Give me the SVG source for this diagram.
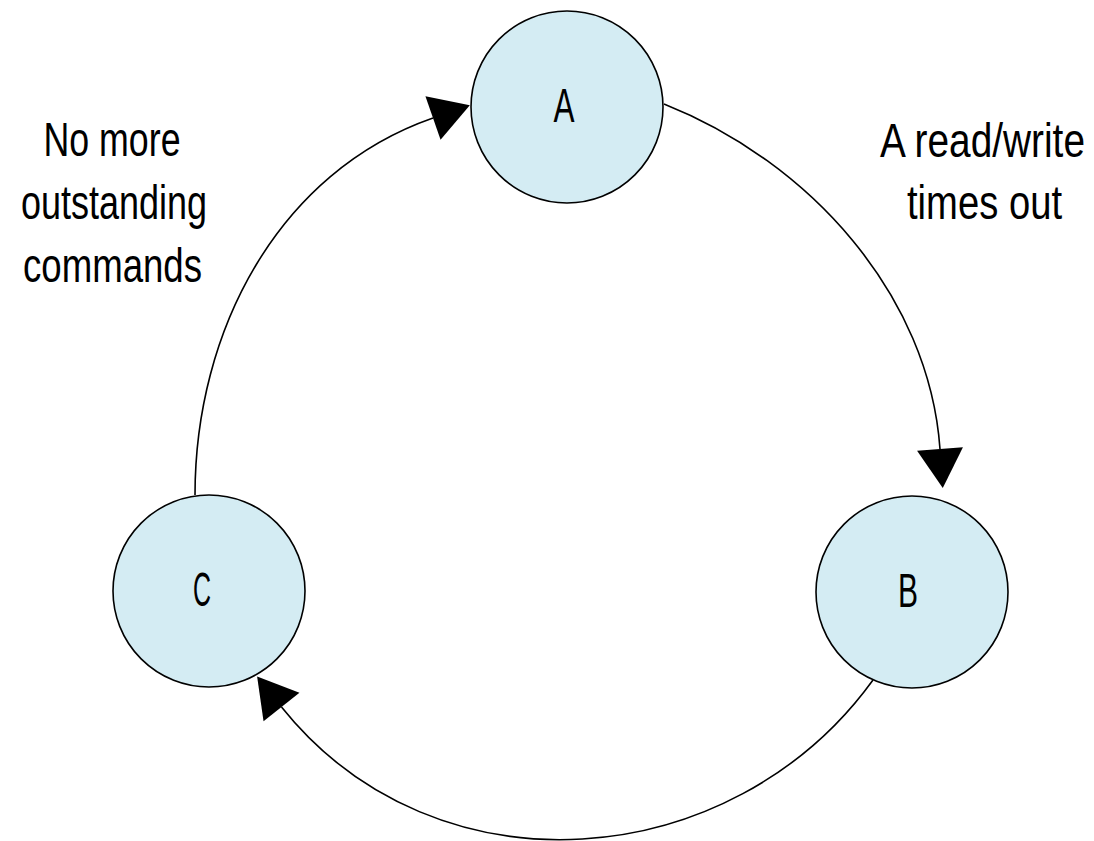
<svg xmlns="http://www.w3.org/2000/svg" width="1094" height="841" viewBox="0 0 1094 841">
<style>
.node{fill:#d4ecf3;stroke:#000;stroke-width:1.6}
.edge{fill:none;stroke:#000;stroke-width:1.6}
.t{font-family:"Liberation Sans",Arial,sans-serif;font-size:49px;fill:#000;text-anchor:middle}
</style>
<defs>
<marker id="arr" markerUnits="userSpaceOnUse" markerWidth="42" markerHeight="50" refX="0" refY="23" orient="auto" viewBox="0 0 42 46" overflow="visible">
<path d="M0,0 L39,23 L0,46 Z" fill="#000"/>
</marker>
</defs>
<rect width="1094" height="841" fill="#fff"/>
<g id="connectors">
<path class="edge" d="M664,104 C810,162 929,295 940,449" marker-end="url(#arr)"/>
<path class="edge" d="M873,680 C732,875 436,900 281.5,707" marker-end="url(#arr)"/>
<path class="edge" d="M195,495 C195,331 278,172 433,118" marker-end="url(#arr)"/>
</g>
<g id="node-A">
<circle class="node" cx="567" cy="107" r="96"/>
<text class="t" x="564" y="122" textLength="21" lengthAdjust="spacingAndGlyphs">A</text>
</g>
<g id="node-B">
<circle class="node" cx="912" cy="592" r="96"/>
<text class="t" x="908" y="607" textLength="20" lengthAdjust="spacingAndGlyphs">B</text>
</g>
<g id="node-C">
<circle class="node" cx="209" cy="591" r="96"/>
<text class="t" x="202" y="606" textLength="18" lengthAdjust="spacingAndGlyphs">C</text>
</g>
<g id="label-AB">
<text class="t" x="982.5" y="157" textLength="205" lengthAdjust="spacingAndGlyphs">A read/write</text>
<text class="t" x="984.5" y="219" textLength="155" lengthAdjust="spacingAndGlyphs">times out</text>
</g>
<g id="label-CA">
<text class="t" x="112" y="156" textLength="137" lengthAdjust="spacingAndGlyphs">No more</text>
<text class="t" x="114" y="219" textLength="186" lengthAdjust="spacingAndGlyphs">outstanding</text>
<text class="t" x="112.5" y="282" textLength="179" lengthAdjust="spacingAndGlyphs">commands</text>
</g>
</svg>
